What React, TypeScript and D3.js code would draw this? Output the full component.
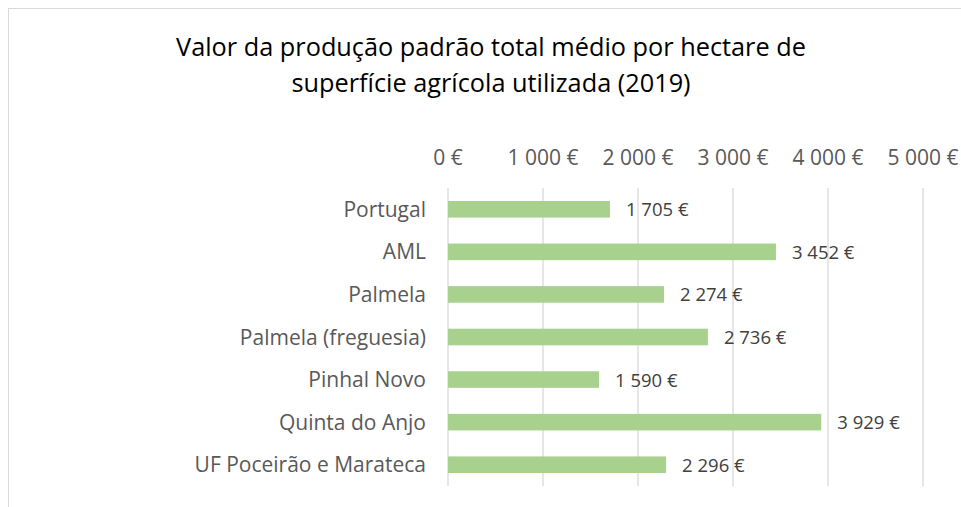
import React from 'react';
import * as d3 from 'd3';

const categories = [
  'Portugal',
  'AML',
  'Palmela',
  'Palmela (freguesia)',
  'Pinhal Novo',
  'Quinta do Anjo',
  'UF Poceirão e Marateca',
];
const values = [1705, 3452, 2274, 2736, 1590, 3929, 2296];
const ticks = [0, 1000, 2000, 3000, 4000, 5000];
const titleLines = [
  'Valor da produção padrão total médio por hectare de',
  'superfície agrícola utilizada (2019)',
];

const W = 961;
const H = 507;
const FONT = "'Open Sans', 'Noto Sans', sans-serif";

const fmt = (v: number) => {
  const s = String(v);
  const t = s.length > 3 ? s.slice(0, s.length - 3) + ' ' + s.slice(-3) : s;
  return t + ' €';
};

export default function App() {
  const x = d3.scaleLinear().domain([0, 5000]).range([448, 923]);
  const y = d3.scaleBand().domain(categories).range([188, 486]).paddingInner(0.61).paddingOuter(0.305);

  return (
    <svg width={W} height={H} style={{ position: 'absolute', left: 0, top: 0 }}>
      <rect x={0} y={0} width={W} height={H} fill="#fff" />
      <rect x={8.5} y={8.5} width={W} height={H} fill="none" stroke="#d9d9d9" />
      {titleLines.map((t, i) => (
        <text key={i} x={491} y={56 + i * 36} textAnchor="middle" fontFamily={FONT} fontSize={25.3} fill="#000">
          {t}
        </text>
      ))}
      {ticks.map((t) => (
        <g key={t}>
          <line x1={x(t)} x2={x(t)} y1={188} y2={486} stroke="#d9d9d9" strokeWidth={1.3} />
          <text x={x(t)} y={165} textAnchor="middle" fontFamily={FONT} fontSize={21} fill="#595959">
            {fmt(t)}
          </text>
        </g>
      ))}
      {categories.map((c, i) => {
        const by = y(c) as number;
        const cy = by + y.bandwidth() / 2;
        return (
          <g key={c}>
            <rect x={x(0)} y={by} width={x(values[i]) - x(0)} height={y.bandwidth()} fill="#a9d18e" />
            <text x={426} y={cy + 7.5} textAnchor="end" fontFamily={FONT} fontSize={21} fill="#595959">
              {c}
            </text>
            <text x={x(values[i]) + 16} y={cy + 7} fontFamily={FONT} fontSize={18.5} fill="#404040">
              {fmt(values[i])}
            </text>
          </g>
        );
      })}
    </svg>
  );
}
